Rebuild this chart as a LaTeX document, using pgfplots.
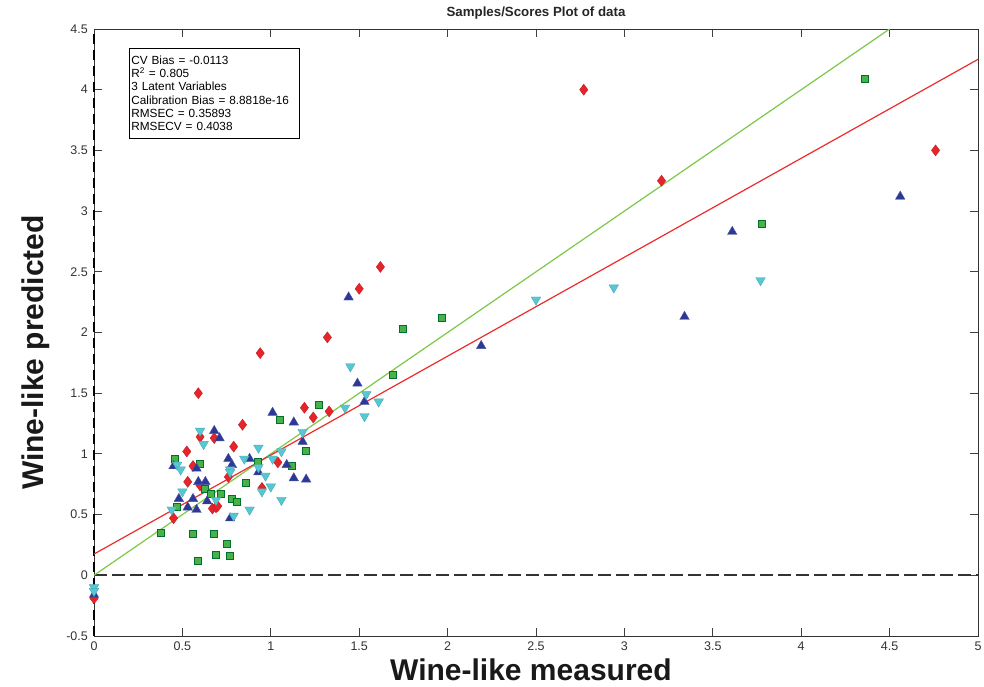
\documentclass[border=0pt]{standalone}
\usepackage{pgfplots}
\pgfplotsset{compat=1.18}
\usepackage{fontspec}
\setmainfont{Liberation Sans}

\definecolor{ptred}{RGB}{230,36,42}
\definecolor{ptgreen}{RGB}{72,178,72}
\definecolor{ptgreenedge}{RGB}{0,110,45}
\definecolor{ptblue}{RGB}{45,56,150}
\definecolor{ptcyan}{RGB}{86,200,212}
\definecolor{fitred}{RGB}{236,44,44}
\definecolor{fitgreen}{RGB}{125,200,70}

% measured vs. predicted values, one table per sample class
\pgfplotstableread{
x y
2.77 4.00
3.21 3.25
4.76 3.50
1.62 2.54
1.50 2.36
1.32 1.96
0.94 1.83
0.59 1.50
0.84 1.24
1.19 1.38
1.24 1.30
1.33 1.35
0.79 1.06
1.04 0.93
0.525 1.02
0.56 0.90
0.60 1.14
0.68 1.13
0.53 0.77
0.60 0.74
0.76 0.81
0.95 0.72
0.45 0.47
0.67 0.55
0.69 0.56
0.70 0.57
0.00 -0.19
}\classA

\pgfplotstableread{
x y
4.36 4.09
3.78 2.89
1.97 2.12
1.75 2.03
1.69 1.65
1.27 1.40
1.05 1.28
1.20 1.02
1.12 0.90
0.46 0.96
0.60 0.92
0.93 0.93
0.86 0.76
0.63 0.71
0.66 0.67
0.72 0.67
0.78 0.63
0.81 0.60
0.47 0.56
0.38 0.35
0.56 0.34
0.68 0.34
0.75 0.26
0.69 0.165
0.77 0.16
0.59 0.115
}\classB

\pgfplotstableread{
x y
4.56 3.12
3.61 2.83
3.34 2.13
2.19 1.89
1.44 2.29
1.49 1.58
1.53 1.43
1.13 1.26
1.18 1.10
1.01 1.34
0.88 0.96
0.93 0.85
1.09 0.91
1.13 0.80
1.20 0.79
0.68 1.19
0.71 1.13
0.76 0.96
0.78 0.91
0.45 0.90
0.58 0.88
0.59 0.77
0.63 0.77
0.48 0.63
0.56 0.63
0.53 0.56
0.58 0.54
0.64 0.61
0.77 0.47
0.00 -0.16
}\classC

\pgfplotstableread{
x y
3.77 2.43
2.94 2.37
2.50 2.27
1.45 1.72
1.54 1.49
1.61 1.43
1.42 1.38
1.53 1.31
1.18 1.18
0.93 1.05
1.06 1.02
0.85 0.96
1.01 0.96
0.93 0.89
0.97 0.82
1.00 0.73
0.95 0.69
1.06 0.62
0.88 0.54
0.60 1.19
0.62 1.08
0.47 0.91
0.49 0.87
0.77 0.87
0.77 0.85
0.50 0.69
0.69 0.62
0.44 0.54
0.79 0.49
0.00 -0.10
0.00 -0.13
}\classD

\begin{document}
\begin{tikzpicture}
\begin{axis}[
  scale only axis,
  width=884pt, height=607pt,
  xmin=0, xmax=5, ymin=-0.5, ymax=4.5,
  clip=false,
  axis line style={draw=black!80, line width=0.8pt},
  tick align=inside,
  major tick length=8pt,
  tick style={draw=black!75, line width=0.8pt},
  xtick={0,0.5,1,1.5,2,2.5,3,3.5,4,4.5,5},
  xticklabels={0,0.5,1,1.5,2,2.5,3,3.5,4,4.5,5},
  ytick={-0.5,0,0.5,1,1.5,2,2.5,3,3.5,4,4.5},
  yticklabels={-0.5,0,0.5,1,1.5,2,2.5,3,3.5,4,4.5},
  xticklabel style={font=\fontsize{12.5}{14}\selectfont, text=black!80, anchor=north, inner sep=0pt, yshift=-6pt},
  yticklabel style={font=\fontsize{12.5}{14}\selectfont, text=black!80, anchor=east, inner sep=0pt, xshift=-6pt},
  title={Samples/Scores Plot of data},
  title style={at={(axis description cs:0.5,1.0099)}, anchor=base, yshift=0pt, font=\bfseries\fontsize{13.3}{15}\selectfont, text=black!85},
  xlabel={Wine-like measured},
  xlabel style={at={(axis description cs:0.4943,-0.0725)}, anchor=base, font=\bfseries\fontsize{30}{34}\selectfont, text=black!90},
  ylabel={Wine-like predicted},
  ylabel style={at={(axis description cs:-0.057,0.467)}, anchor=base, font=\bfseries\fontsize{30}{34}\selectfont, text=black!90},
]
% reference lines: zero level and x = 0
\addplot[black!80, line width=1.6pt, dash pattern=on 13pt off 5pt] coordinates {(0,0) (5,0)};
\addplot[black, line width=1.6pt, dash pattern=on 10pt off 6pt] coordinates {(0,-0.5) (0,4.5)};
% ideal 1:1 line and regression fit
\addplot[fitgreen, line width=1.2pt] coordinates {(0,0) (4.5,4.5)};
\addplot[fitred, line width=1.2pt] coordinates {(0,0.175) (5,4.25)};

\addplot[only marks, mark=diamond*, mark size=5.5pt,
  mark options={fill=ptred, draw=ptred!85!black, line width=0.4pt}] table {\classA};
\addplot[only marks, mark=square*, mark size=3.5pt,
  mark options={fill=ptgreen, draw=ptgreenedge, line width=1pt}] table {\classB};
\addplot[only marks, mark=triangle*, mark size=5.5pt,
  mark options={fill=ptblue, draw=ptblue!85!white, line width=0.4pt}] table {\classC};
\addplot[only marks, mark=triangle*, mark size=5.5pt,
  mark options={fill=ptcyan, draw=ptcyan!85!black, line width=0.4pt, rotate=180}] table {\classD};

% fit statistics
\node[draw=black, line width=0.6pt, fill=white, anchor=north west,
  minimum height=90pt, text width=166pt, inner xsep=2pt, align=left,
  font=\fontsize{11.8}{13.3}\selectfont]
  at (axis description cs:0.0396,0.9687)
  {CV Bias = -0.0113\\
   R\textsuperscript{2} = 0.805\\
   3 Latent Variables\\
   Calibration Bias = 8.8818e-16\\
   RMSEC = 0.35893\\
   RMSECV = 0.4038};
\end{axis}
\pgfresetboundingbox
\path ([shift={(-94pt,-51pt)}]current axis.south west) rectangle ([shift={(6pt,29pt)}]current axis.north east);
\end{tikzpicture}
\end{document}
